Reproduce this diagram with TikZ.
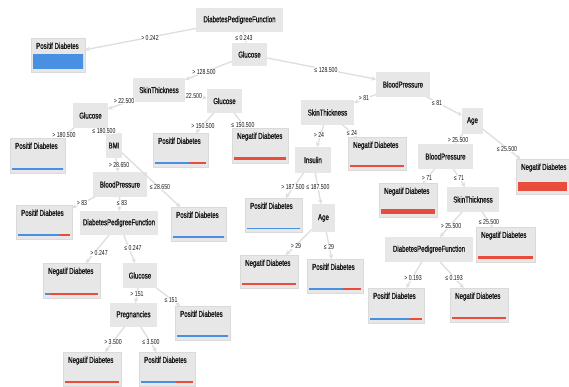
\documentclass[tikz,border=0pt]{standalone}
\usepackage{fontspec}
\newfontfamily\dtfont{Liberation Sans}[FakeStretch=0.72]
\newfontfamily\dtbfont{Liberation Sans}[FakeStretch=0.72,FakeBold=1.2]
\usetikzlibrary{arrows.meta}
\definecolor{boxgray}{RGB}{231,231,231}
\definecolor{boxline}{RGB}{218,218,218}
\definecolor{edgegray}{RGB}{222,222,222}
\definecolor{barblue}{RGB}{74,144,226}
\definecolor{barred}{RGB}{231,76,60}
\definecolor{txtc}{RGB}{25,25,25}
\tikzset{
  inbox/.style={rectangle, fill=boxgray, inner sep=0pt, outer sep=0pt, text=txtc,
    font=\dtbfont\fontsize{8.5}{9}\selectfont},
  lfbox/.style={rectangle, fill=boxgray, draw=boxline, line width=0.5pt, inner sep=0pt, outer sep=0pt},
  ntext/.style={inner sep=0pt, text=txtc, font=\dtbfont\fontsize{8.5}{9}\selectfont},
  elbl/.style={fill=white, inner sep=0.6pt, text=txtc, font=\dtfont\fontsize{7.2}{8}\selectfont},
  conn/.style={draw=edgegray, line width=1.3pt, -{Stealth[length=4.5pt,width=4.5pt]}}
}
\newcommand\inode[6]{%
  \node[inbox, minimum width={#4-#2}, minimum height={#5-#3}] (#1) at ({(#2+#4)/2},{(#3+#5)/2}) {#6};}
\newcommand\lnode[8]{%
  \node[lfbox, minimum width={#4-#2}, minimum height={#5-#3}] (#1) at ({(#2+#4)/2},{(#3+#5)/2}) {};
  \node[ntext, anchor=north west] (#1-t) at ({#2+5},{#3+4.5}) {#6};
  \fill[barblue] ({#2+2},{#5-3-#8}) rectangle ({#2+2+#7*(#4-#2-4)},{#5-3});
  \fill[barred] ({#2+2+#7*(#4-#2-4)},{#5-3-#8}) rectangle ({#4-2},{#5-3});}
\begin{document}
\begin{tikzpicture}[x=1pt,y=-1pt]
\fill[white] (0,0) rectangle (569,386);
\useasboundingbox (0,0) rectangle (569,386);
% internal nodes
\inode{root}{196}{8}{283}{32}{DiabetesPedigreeFunction}
\inode{G1}{232}{43}{267}{66}{Glucose}
\inode{S1}{133}{78}{185}{102}{SkinThickness}
\inode{G2}{207}{89}{242}{113}{Glucose}
\inode{G3}{73}{103}{108}{128}{Glucose}
\inode{BMI}{106}{133}{122}{158}{BMI}
\inode{BP1}{93}{172}{147}{197}{BloodPressure}
\inode{D2}{80}{211}{158}{235}{DiabetesPedigreeFunction}
\inode{G4}{123}{263}{157}{288}{Glucose}
\inode{PR}{110}{303}{157}{327}{Pregnancies}
\inode{BP2}{376}{72}{430}{97}{BloodPressure}
\inode{S2}{301}{100}{354}{125}{SkinThickness}
\inode{A1}{462}{108}{483}{134}{Age}
\inode{IN}{295}{147}{331}{173}{Insulin}
\inode{BP3}{418}{144}{473}{169}{BloodPressure}
\inode{A2}{312}{204}{335}{232}{Age}
\inode{S3}{447}{187}{499}{212}{SkinThickness}
\inode{D3}{385}{237}{473}{262}{DiabetesPedigreeFunction}
% leaves
\lnode{L1}{31}{38}{85}{72}{Positif Diabetes}{1}{15}
\lnode{L2}{10}{138}{65}{173}{Positif Diabetes}{1}{2}
\lnode{L3}{153}{133}{208}{167}{Positif Diabetes}{0.67}{2}
\lnode{L4}{232}{128}{288}{163}{Negatif Diabetes}{0}{3}
\lnode{L5}{16}{205}{72}{239}{Positif Diabetes}{0.8}{2}
\lnode{L6}{171}{207}{226}{241}{Positif Diabetes}{1}{2}
\lnode{L7}{43}{263}{100}{298}{Negatif Diabetes}{0.1}{2}
\lnode{L8}{175}{306}{230}{340}{Positif Diabetes}{1}{2}
\lnode{L9}{63}{352}{121}{386}{Negatif Diabetes}{0}{2}
\lnode{L10}{139}{352}{195}{386}{Positif Diabetes}{0.67}{2}
\lnode{L11}{348}{137}{406}{170}{Negatif Diabetes}{0}{2}
\lnode{L12}{516}{159}{569}{194}{Negatif Diabetes}{0}{9}
\lnode{L13}{245}{198}{302}{232}{Positif Diabetes}{1}{1.5}
\lnode{L14}{379}{183}{437}{217}{Negatif Diabetes}{0}{5}
\lnode{L15}{476}{227}{535}{262}{Negatif Diabetes}{0}{3}
\lnode{L16}{240}{255}{298}{288}{Negatif Diabetes}{0}{2}
\lnode{L17}{307}{259}{363}{293}{Positif Diabetes}{0.66}{2}
\lnode{L18}{368}{288}{424}{323}{Positif Diabetes}{0.76}{2}
\lnode{L19}{450}{288}{508}{322}{Negatif Diabetes}{0}{2}
% connectors
\draw[conn] (root) -- (L1);
\draw[conn] (root) -- (G1);
\draw[conn] (G1) -- (S1);
\draw[conn] (G1) -- (BP2);
\draw[conn] (S1) -- (G3);
\draw[conn] (S1) -- (G2);
\draw[conn] (G3) -- (L2);
\draw[conn] (G3) -- (BMI);
\draw[conn] (G2) -- (L3);
\draw[conn] (G2) -- (L4);
\draw[conn] (BMI) -- (BP1);
\draw[conn] (BMI) -- (L6);
\draw[conn] (BP1) -- (L5);
\draw[conn] (BP1) -- (D2);
\draw[conn] (D2) -- (L7);
\draw[conn] (D2) -- (G4);
\draw[conn] (G4) -- (PR);
\draw[conn] (G4) -- (L8);
\draw[conn] (PR) -- (L9);
\draw[conn] (PR) -- (L10);
\draw[conn] (BP2) -- (S2);
\draw[conn] (BP2) -- (A1);
\draw[conn] (S2) -- (IN);
\draw[conn] (S2) -- (L11);
\draw[conn] (A1) -- (BP3);
\draw[conn] (A1) -- (L12);
\draw[conn] (IN) -- (L13);
\draw[conn] (IN) -- (A2);
\draw[conn] (BP3) -- (L14);
\draw[conn] (BP3) -- (S3);
\draw[conn] (S3) -- (D3);
\draw[conn] (S3) -- (L15);
\draw[conn] (A2) -- (L16);
\draw[conn] (A2) -- (L17);
\draw[conn] (D3) -- (L18);
\draw[conn] (D3) -- (L19);
% edge labels
\node[elbl] (e1) at (150,38) {> 0.242};
\node[elbl] (e2) at (244,38) {≤ 0.243};
\node[elbl] (e3) at (204,72) {> 128.500};
\node[elbl] (e4) at (326,70) {≤ 128.500};
\node[elbl] (e5) at (124,101) {> 22.500};
\node[elbl] (e6) at (194,96) {22.500};
\node[elbl] (e7) at (64,135) {> 180.500};
\node[elbl] (e8) at (104,131) {≤ 180.500};
\node[elbl] (e9) at (203,126) {> 150.500};
\node[elbl] (e10) at (243,125) {≤ 150.500};
\node[elbl] (e11) at (119,165) {> 28.650};
\node[elbl] (e12) at (160,187) {≤ 28.650};
\node[elbl] (e13) at (82,203) {> 83};
\node[elbl] (e14) at (122,203) {≤ 83};
\node[elbl] (e15) at (99,253) {> 0.247};
\node[elbl] (e16) at (133,248) {≤ 0.247};
\node[elbl] (e17) at (137,294) {> 151};
\node[elbl] (e18) at (171,300) {≤ 151};
\node[elbl] (e19) at (113,342) {> 3.500};
\node[elbl] (e20) at (151,342) {≤ 3.500};
\node[elbl] (e21) at (364,98) {> 81};
\node[elbl] (e22) at (437,103) {≤ 81};
\node[elbl] (e23) at (319,135) {> 24};
\node[elbl] (e24) at (352,133) {≤ 24};
\node[elbl] (e25) at (458,140) {> 25.500};
\node[elbl] (e26) at (507,149) {≤ 25.500};
\node[elbl] (e27) at (293,187) {> 187.500};
\node[elbl] (e28) at (318,187) {≤ 187.500};
\node[elbl] (e29) at (427,178) {> 71};
\node[elbl] (e30) at (459,178) {≤ 71};
\node[elbl] (e31) at (451,226) {> 25.500};
\node[elbl] (e32) at (489,222) {≤ 25.500};
\node[elbl] (e33) at (296,246) {> 29};
\node[elbl] (e34) at (329,247) {≤ 29};
\node[elbl] (e35) at (413,278) {> 0.193};
\node[elbl] (e36) at (454,278) {≤ 0.193};
\end{tikzpicture}
\end{document}
